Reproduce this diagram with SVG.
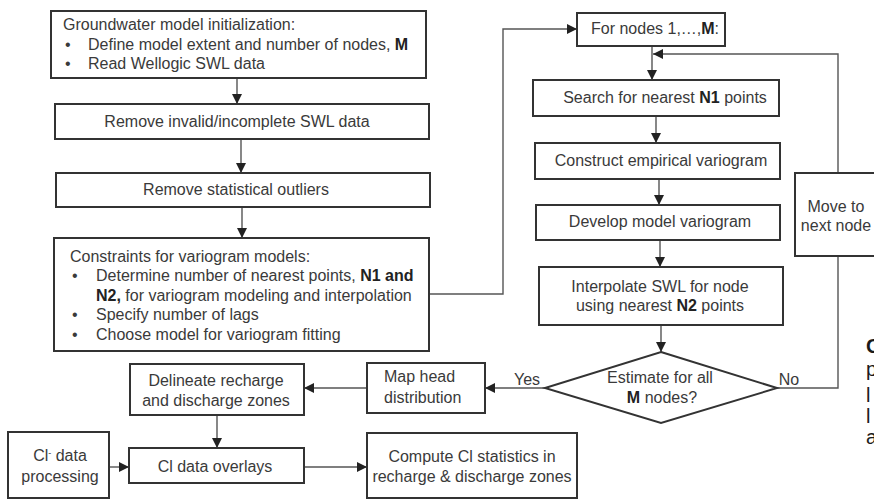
<svg xmlns="http://www.w3.org/2000/svg" width="874" height="500" viewBox="0 0 874 500">
<defs>
<marker id="ah" viewBox="0 0 10 10" refX="10" refY="5" markerWidth="10" markerHeight="10" markerUnits="userSpaceOnUse" orient="auto">
<path d="M0,0 L10,5 L0,10 z" fill="#222"/>
</marker>
</defs>
<style>
.box{fill:#fff;stroke:#333;stroke-width:2}
.t{font-family:"Liberation Sans",Arial,sans-serif;font-size:16px;fill:#3a3a3a}
.c{text-anchor:middle}
.b{font-weight:bold;fill:#222}
.ln{fill:none;stroke:#555;stroke-width:1.4}
.arr{marker-end:url(#ah)}
.frag{font-family:"Liberation Sans",Arial,sans-serif;font-size:20px;fill:#1a1a1a}
</style>
<rect width="874" height="500" fill="#fff"/>

<g id="connectors">
<path class="ln arr" d="M237,78 V104"/>
<path class="ln arr" d="M241,139 V173"/>
<path class="ln arr" d="M242,207 V238"/>
<path class="ln arr" d="M429,294 H503 V29 H577"/>
<path class="ln arr" d="M652,46 V80"/>
<path class="ln arr" d="M838,173 V54 H653"/>
<path class="ln arr" d="M656,116 V143"/>
<path class="ln arr" d="M659,179 V205"/>
<path class="ln arr" d="M660,240 V267"/>
<path class="ln arr" d="M661,325 V352"/>
<path class="ln arr" d="M545,388 H485"/>
<path class="ln" d="M777,388 H838 V256"/>
<path class="ln arr" d="M367,388 H304"/>
<path class="ln arr" d="M217,415 V448"/>
<path class="ln arr" d="M109,467 H129"/>
<path class="ln arr" d="M304,467 H367"/>
</g>

<g id="n-init">
<rect class="box" x="51" y="11" width="375" height="67"/>
<text class="t" x="63" y="30">Groundwater model initialization:</text>
<text class="t" x="65" y="50">•</text>
<text class="t" x="88" y="50">Define model extent and number of nodes, <tspan class="b">M</tspan></text>
<text class="t" x="65" y="69">•</text>
<text class="t" x="88" y="69">Read Wellogic SWL data</text>
</g>

<g id="n-invalid">
<rect class="box" x="55" y="104" width="374" height="35"/>
<text class="t c" x="237" y="127">Remove invalid/incomplete SWL data</text>
</g>

<g id="n-outliers">
<rect class="box" x="56" y="173" width="374" height="34"/>
<text class="t c" x="236" y="195">Remove statistical outliers</text>
</g>

<g id="n-constraints">
<rect class="box" x="54" y="238" width="375" height="113"/>
<text class="t" x="70" y="262">Constraints for variogram models:</text>
<text class="t" x="72" y="281">•</text>
<text class="t" x="96" y="281">Determine number of nearest points, <tspan class="b">N1 and</tspan></text>
<text class="t" x="96" y="301"><tspan class="b">N2,</tspan> for variogram modeling and interpolation</text>
<text class="t" x="72" y="320">•</text>
<text class="t" x="96" y="320">Specify number of lags</text>
<text class="t" x="72" y="340">•</text>
<text class="t" x="96" y="340">Choose model for variogram fitting</text>
</g>

<g id="n-fornodes">
<rect class="box" x="577" y="13" width="148" height="33"/>
<text class="t" x="591" y="34">For nodes 1,…,<tspan class="b">M</tspan>:</text>
</g>

<g id="n-search">
<rect class="box" x="533" y="80" width="246" height="36"/>
<text class="t c" x="665" y="103">Search for nearest <tspan class="b">N1</tspan> points</text>
</g>

<g id="n-empirical">
<rect class="box" x="535" y="143" width="245" height="36"/>
<text class="t c" x="661" y="166">Construct empirical variogram</text>
</g>

<g id="n-model">
<rect class="box" x="536" y="205" width="244" height="35"/>
<text class="t c" x="660" y="227">Develop model variogram</text>
</g>

<g id="n-interp">
<rect class="box" x="539" y="267" width="244" height="58"/>
<text class="t c" x="660" y="292">Interpolate SWL for node</text>
<text class="t c" x="660" y="311">using nearest <tspan class="b">N2</tspan> points</text>
</g>

<g id="n-move">
<rect class="box" x="795" y="173" width="90" height="83"/>
<text class="t c" x="836" y="212">Move to</text>
<text class="t c" x="836" y="231">next node</text>
</g>

<g id="n-decision">
<polygon class="box" points="661,352 777,388 661,423 545,388"/>
<text class="t c" x="660" y="383">Estimate for all</text>
<text class="t c" x="662" y="403"><tspan class="b">M</tspan> nodes?</text>
<text class="t c" x="527" y="385">Yes</text>
<text class="t c" x="789" y="385">No</text>
</g>

<g id="n-map">
<rect class="box" x="367" y="363" width="118" height="50"/>
<text class="t" x="384" y="382">Map head</text>
<text class="t" x="384" y="403">distribution</text>
</g>

<g id="n-delineate">
<rect class="box" x="130" y="364" width="174" height="51"/>
<text class="t c" x="216" y="386">Delineate recharge</text>
<text class="t c" x="216" y="406">and discharge zones</text>
</g>

<g id="n-cldata">
<rect class="box" x="8" y="432" width="101" height="66"/>
<text class="t c" x="60" y="461">Cl<tspan baseline-shift="super" font-size="9">-</tspan> data</text>
<text class="t c" x="60" y="482">processing</text>
</g>

<g id="n-overlays">
<rect class="box" x="129" y="448" width="175" height="35"/>
<text class="t c" x="215" y="472">Cl data overlays</text>
</g>

<g id="n-compute">
<rect class="box" x="367" y="433" width="210" height="65"/>
<text class="t c" x="472" y="462">Compute Cl statistics in</text>
<text class="t c" x="472" y="482">recharge &amp; discharge zones</text>
</g>

<g id="fragment">
<text class="frag" x="866" y="353" font-weight="bold">C</text>
<text class="frag" x="866" y="376">p</text>
<text class="frag" x="866" y="402">l</text>
<text class="frag" x="866" y="423">l</text>
<text class="frag" x="866" y="444">a</text>
</g>
</svg>
